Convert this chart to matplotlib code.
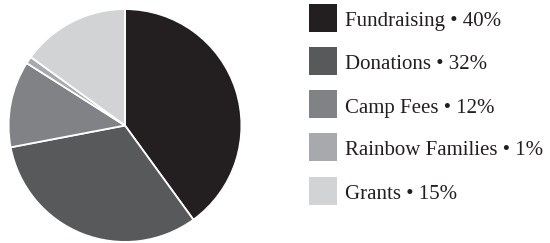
import matplotlib.pyplot as plt
from matplotlib.patches import Rectangle

labels = ['Fundraising', 'Donations', 'Camp Fees', 'Rainbow Families', 'Grants']
shares = [40, 32, 12, 1, 15]
colors = ['#231f20', '#58595b', '#808285', '#a7a9ac', '#d1d3d4']

W, H = 550, 243
fig = plt.figure(figsize=(W / 100, H / 100), dpi=100)

# pie: centre (125, 125.5) px, radius 117 px
cx, cy, r = 125, 125.5, 117
ax = fig.add_axes([(cx - r) / W, (H - cy - r) / H, 2 * r / W, 2 * r / H])
ax.pie(shares, colors=colors, startangle=90, counterclock=False,
       wedgeprops=dict(edgecolor='white', linewidth=1.3))
ax.set_xlim(-1.005, 1.005)
ax.set_ylim(-1.005, 1.005)
ax.set_aspect('auto')

# legend, drawn by hand in pixel units
sq = 28
x0 = 309
tops = [4, 47, 90.5, 133, 177]
for lab, val, col, top in zip(labels, shares, colors, tops):
    fig.patches.append(Rectangle((x0 / W, (H - top - sq) / H), sq / W, sq / H,
                                 transform=fig.transFigure, facecolor=col,
                                 edgecolor='none'))
    fig.text(345 / W, (H - top - sq + 6) / H, f'{lab} \u2022 {val}%',
             family=['Liberation Serif', 'DejaVu Serif'], fontsize=15,
             color='#231f20', va='baseline', ha='left')

fig.savefig('out.png', dpi=100)
